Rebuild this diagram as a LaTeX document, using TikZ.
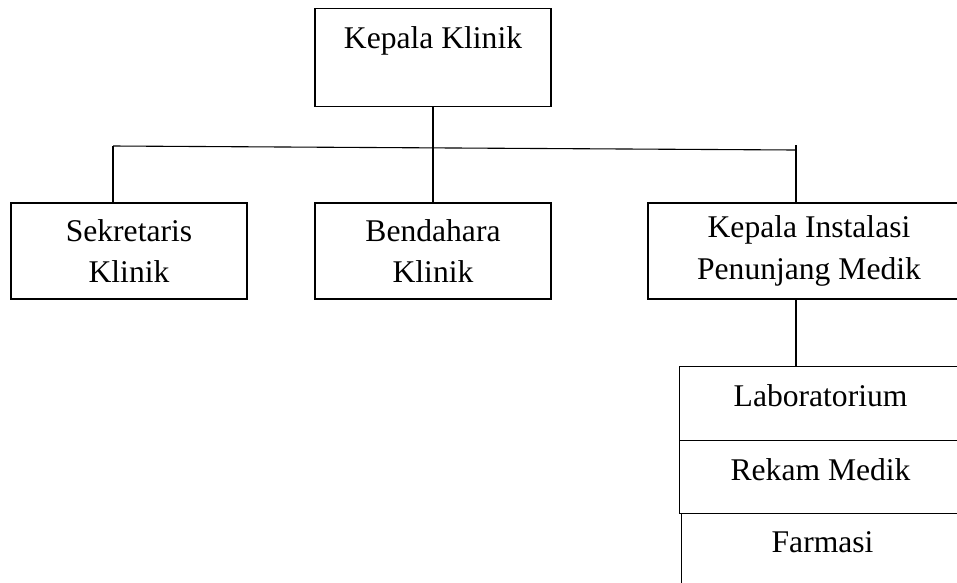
\documentclass[tikz,border=0pt]{standalone}
\usepackage{fontspec}
\setmainfont{Liberation Serif}
\tikzset{
	box/.style={draw, line width=1.1pt, inner sep=0pt, align=center,
		font=\fontsize{31.6}{41.5}\selectfont},
	link/.style={line width=1.1pt}
}
\begin{document}
\begin{tikzpicture}[x=1pt,y=-1pt]
		\useasboundingbox (0,0) rectangle (957,582);
		\clip (0,0) rectangle (957,582);
		\node[box, anchor=north, minimum width=236, text height=40, text depth=58] (kk) at (433,8) {Kepala Klinik};
		\node[box, minimum width=236, minimum height=96] (sk) at (129,251) {Sekretaris\\Klinik};
		\node[box, minimum width=236, minimum height=96] (bk) at (433,251) {Bendahara\\Klinik};
		\node[box, minimum width=322, minimum height=96] (kip) at (809,251) {Kepala Instalasi\\Penunjang Medik};
		\node[box, anchor=north west, minimum width=282, text height=40, text depth=34] (lab) at (679,366) {Laboratorium};
		\node[box, anchor=north west, minimum width=282, text height=40, text depth=33] (rm) at (679,440) {Rekam Medik};
		\node[box, anchor=north west, minimum width=282, text height=39, text depth=36] (fm) at (681,513) {Farmasi};
		\coordinate (barL) at (113,146);
		\coordinate (barR) at (796,150);
		\coordinate (barT) at (796,145);
		\draw[link] (kk.south) -- (bk.north);
		\draw[link] (barL) -- (barR);
		\draw[link] (barL) -- (barL |- sk.north);
		\draw[link] (barT) -- (barT |- kip.north);
		\draw[link] (barT |- kip.south) -- (barT |- lab.north);
	\end{tikzpicture}
\end{document}
